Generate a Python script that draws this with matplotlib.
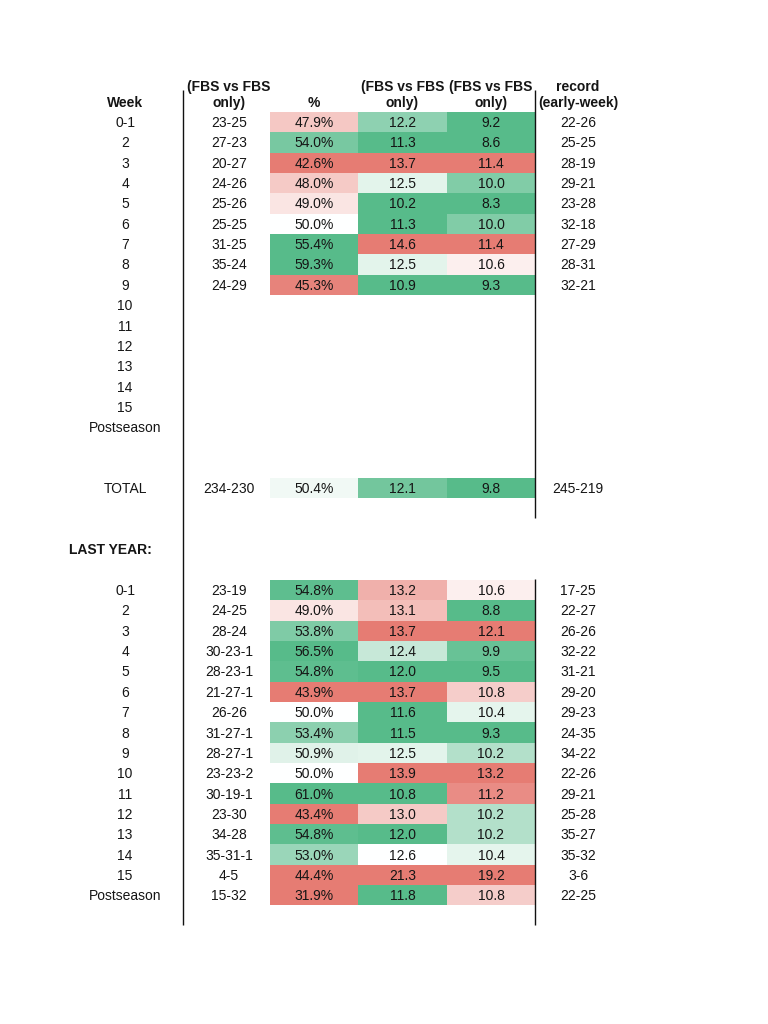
import matplotlib
matplotlib.use("Agg")
import matplotlib.pyplot as plt
import numpy as np
from matplotlib.colors import LinearSegmentedColormap, TwoSlopeNorm

# ---------------- data ----------------
weeks = ['0-1', '2', '3', '4', '5', '6', '7', '8', '9', '10', '11', '12',
         '13', '14', '15', 'Postseason']

ats_top = ['23-25', '27-23', '20-27', '24-26', '25-26', '25-25', '31-25', '35-24', '24-29']
pct_top = [47.9, 54.0, 42.6, 48.0, 49.0, 50.0, 55.4, 59.3, 45.3]
col_d_top = [12.2, 11.3, 13.7, 12.5, 10.2, 11.3, 14.6, 12.5, 10.9]
col_e_top = [9.2, 8.6, 11.4, 10.0, 8.3, 10.0, 11.4, 10.6, 9.3]
rec_top = ['22-26', '25-25', '28-19', '29-21', '23-28', '32-18', '27-29', '28-31', '32-21']

total_ats = '234-230'
total_pct = 50.4
total_d = 12.1
total_e = 9.8
total_rec = '245-219'

ats_ly = ['23-19', '24-25', '28-24', '30-23-1', '28-23-1', '21-27-1', '26-26', '31-27-1',
          '28-27-1', '23-23-2', '30-19-1', '23-30', '34-28', '35-31-1', '4-5', '15-32']
pct_ly = [54.8, 49.0, 53.8, 56.5, 54.8, 43.9, 50.0, 53.4, 50.9, 50.0, 61.0, 43.4,
          54.8, 53.0, 44.4, 31.9]
col_d_ly = [13.2, 13.1, 13.7, 12.4, 12.0, 13.7, 11.6, 11.5, 12.5, 13.9, 10.8, 13.0,
            12.0, 12.6, 21.3, 11.8]
col_e_ly = [10.6, 8.8, 12.1, 9.9, 9.5, 10.8, 10.4, 9.3, 10.2, 13.2, 11.2, 10.2,
            10.2, 10.4, 19.2, 10.8]
rec_ly = ['17-25', '22-27', '26-26', '32-22', '31-21', '29-20', '29-23', '24-35',
          '34-22', '22-26', '29-21', '25-28', '35-27', '35-32', '3-6', '22-25']

header_b = ['(FBS vs FBS', 'only)']
header_c = ['', '%']
header_d = ['(FBS vs FBS', 'only)']
header_e = ['(FBS vs FBS', 'only)']
header_f = ['record', '(early-week)']

# ---------------- layout / style ----------------
plt.rcParams['font.family'] = ['Liberation Sans', 'DejaVu Sans']
FS = 10
TXT = '#151515'
DY = 0.05  # small text offset (rows)

fig = plt.figure(figsize=(7.68, 10.24), dpi=100)
ax = fig.add_axes([0, 0, 1, 1])
ax.set_axis_off()
y0_px, pitch = 122.0, 20.35
ax.set_xlim(0, 768)
ax.set_ylim((1024 - y0_px) / pitch, (0 - y0_px) / pitch)

xA, xB, xF = 125, 229, 578
cell_left = [270, 358, 447]
cell_w = [88, 89, 88]

cmap = LinearSegmentedColormap.from_list('sheets', ['#e67c73', '#ffffff', '#57bb8a'])
norm_pct = TwoSlopeNorm(vmin=45.0, vcenter=50.0, vmax=55.0)
norm_d = TwoSlopeNorm(vmin=12.0, vcenter=12.6, vmax=13.6)
norm_e = TwoSlopeNorm(vmin=9.83, vcenter=10.5, vmax=11.3)


def col_pct(v):
    return cmap(np.clip(norm_pct(v), 0, 1))


def col_low(v, norm):
    return cmap(1 - np.clip(norm(v), 0, 1))


def txt(x, y, s, **kw):
    ax.text(x, y + DY, s, va='center', fontsize=FS, color=TXT, **kw)


def draw_block(rows, ats, pct, dv, ev, rec):
    rows = np.asarray(rows, dtype=float)
    n = len(pct)
    r = rows[:n]
    ax.barh(r, [cell_w[0]] * n, left=cell_left[0], height=1.0,
            color=[col_pct(v) for v in pct], linewidth=0)
    ax.barh(r, [cell_w[1]] * n, left=cell_left[1], height=1.0,
            color=[col_low(v, norm_d) for v in dv], linewidth=0)
    ax.barh(r, [cell_w[2]] * n, left=cell_left[2], height=1.0,
            color=[col_low(v, norm_e) for v in ev], linewidth=0)
    for yy, a, p, d, e, rc in zip(r, ats, pct, dv, ev, rec):
        txt(xB, yy, a, ha='center')
        txt(cell_left[0] + cell_w[0] / 2, yy, f'{p:.1f}%', ha='center')
        txt(cell_left[1] + cell_w[1] / 2, yy, f'{d:.1f}', ha='center')
        txt(cell_left[2] + cell_w[2] / 2, yy, f'{e:.1f}', ha='center')
        txt(xF, yy, rc, ha='center')


# header
for i, yy in enumerate([-1.77, -1.0]):
    for x, h in [(xB, header_b), (cell_left[0] + cell_w[0] / 2, header_c),
                 (cell_left[1] + cell_w[1] / 2, header_d),
                 (cell_left[2] + cell_w[2] / 2, header_e), (xF, header_f)]:
        if h[i]:
            txt(x, yy, h[i], ha='center', fontweight='bold')
txt(xA, -1.0, 'Week', ha='center', fontweight='bold')

# top block
top_rows = np.arange(len(weeks))
for yy, w in zip(top_rows, weeks):
    txt(xA, yy, w, ha='center')
draw_block(top_rows, ats_top, pct_top, col_d_top, col_e_top, rec_top)

# total
total_row = 18
txt(xA, total_row, 'TOTAL', ha='center')
draw_block([total_row], [total_ats], [total_pct], [total_d], [total_e], [total_rec])

# last year
txt(69, 21, 'LAST YEAR:', ha='left', fontweight='bold')
ly_rows = np.arange(len(weeks)) + 23
for yy, w in zip(ly_rows, weeks):
    txt(xA, yy, w, ha='center')
draw_block(ly_rows, ats_ly, pct_ly, col_d_ly, col_e_ly, rec_ly)


# vertical rules
def prow(px):
    return (px - y0_px) / pitch


ax.vlines(182.5, prow(90), prow(925), color='#111111', lw=1.0)
ax.vlines(534.5, prow(90), prow(518), color='#111111', lw=1.0)
ax.vlines(534.5, prow(579), prow(925), color='#111111', lw=1.0)

fig.savefig('out.png', dpi=100, facecolor='white')
